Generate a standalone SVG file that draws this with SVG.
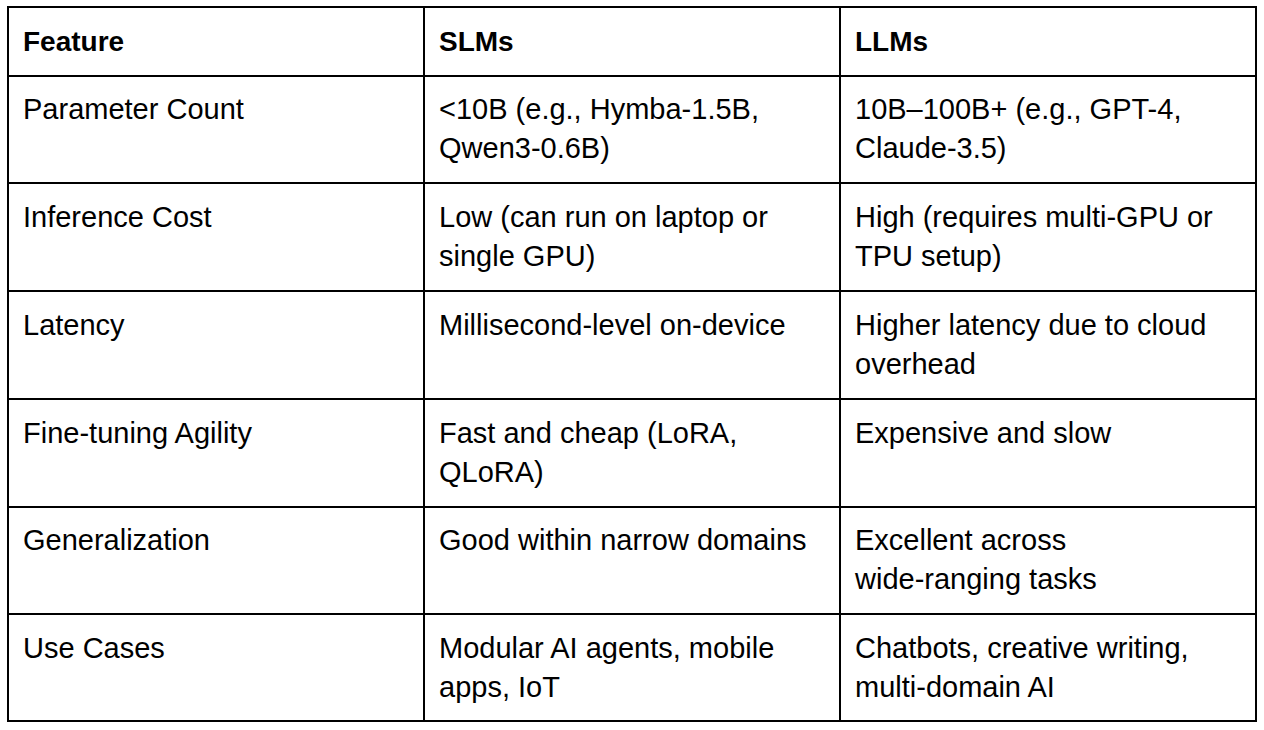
<svg xmlns="http://www.w3.org/2000/svg" width="1264" height="730" viewBox="0 0 1264 730">
<style>
text{font-family:"Liberation Sans",Arial,sans-serif;font-size:29px;fill:#000}
.h{font-weight:bold;font-size:28px}
line{stroke:#000;stroke-width:2}
</style>
<rect width="1264" height="730" fill="#fff"/>
<g id="grid">
<rect x="8" y="7" width="1248" height="714" fill="none" stroke="#000" stroke-width="2"/>
<line x1="424" y1="7" x2="424" y2="721"/>
<line x1="840" y1="7" x2="840" y2="721"/>
<line x1="8" y1="76" x2="1256" y2="76"/>
<line x1="8" y1="183" x2="1256" y2="183"/>
<line x1="8" y1="291" x2="1256" y2="291"/>
<line x1="8" y1="399" x2="1256" y2="399"/>
<line x1="8" y1="507" x2="1256" y2="507"/>
<line x1="8" y1="614" x2="1256" y2="614"/>
</g>
<g id="header">
<text class="h" x="23" y="51">Feature</text>
<text class="h" x="439" y="51">SLMs</text>
<text class="h" x="855" y="51">LLMs</text>
</g>
<g id="r1">
<text x="23" y="119">Parameter Count</text>
<text x="439" y="119">&lt;10B (e.g., Hymba-1.5B,</text>
<text x="439" y="158">Qwen3-0.6B)</text>
<text x="855" y="119">10B–100B+ (e.g., GPT-4,</text>
<text x="855" y="158">Claude-3.5)</text>
</g>
<g id="r2">
<text x="23" y="227">Inference Cost</text>
<text x="439" y="227">Low (can run on laptop or</text>
<text x="439" y="266">single GPU)</text>
<text x="855" y="227">High (requires multi-GPU or</text>
<text x="855" y="266">TPU setup)</text>
</g>
<g id="r3">
<text x="23" y="335">Latency</text>
<text x="439" y="335">Millisecond-level on-device</text>
<text x="855" y="335">Higher latency due to cloud</text>
<text x="855" y="374">overhead</text>
</g>
<g id="r4">
<text x="23" y="443">Fine-tuning Agility</text>
<text x="439" y="443">Fast and cheap (LoRA,</text>
<text x="439" y="482">QLoRA)</text>
<text x="855" y="443">Expensive and slow</text>
</g>
<g id="r5">
<text x="23" y="550">Generalization</text>
<text x="439" y="550">Good within narrow domains</text>
<text x="855" y="550">Excellent across</text>
<text x="855" y="589">wide-ranging tasks</text>
</g>
<g id="r6">
<text x="23" y="658">Use Cases</text>
<text x="439" y="658">Modular AI agents, mobile</text>
<text x="439" y="697">apps, IoT</text>
<text x="855" y="658">Chatbots, creative writing,</text>
<text x="855" y="697">multi-domain AI</text>
</g>
</svg>
